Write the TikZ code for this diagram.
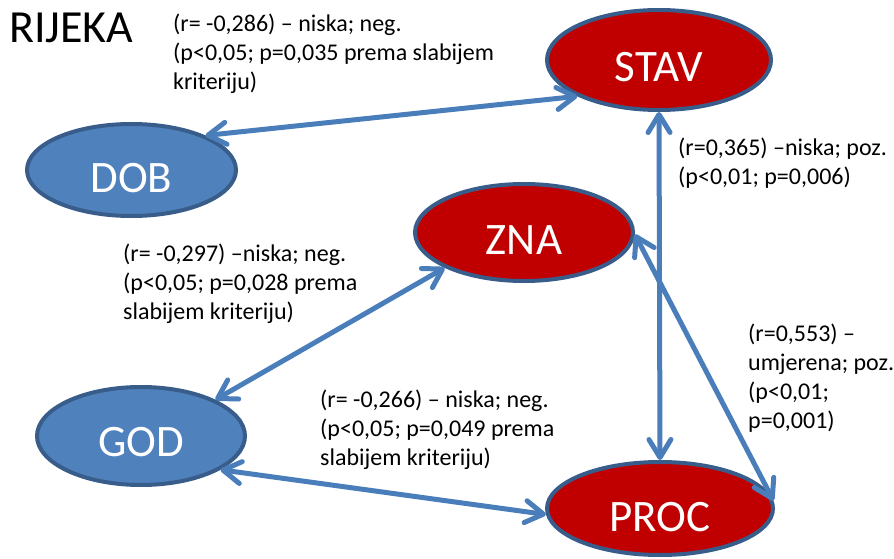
\documentclass[tikz,border=0pt]{standalone}
\usepackage{fontspec}
\setmainfont{Carlito}
\usetikzlibrary{arrows.meta,shapes.geometric}

\definecolor{linkblue}{RGB}{74,126,187}
\definecolor{rimblue}{RGB}{56,93,138}
\definecolor{fillblue}{RGB}{79,129,189}
\definecolor{fillred}{RGB}{192,0,0}

\begin{document}
\begin{tikzpicture}[x=1pt,y=-1pt,
  oval/.style={ellipse, draw=rimblue, line width=4pt, inner sep=0pt},
  blueoval/.style={oval, fill=fillblue},
  redoval/.style={oval, fill=fillred},
  ovaltext/.style={anchor=base, inner sep=0pt, text=white,
    font=\fontsize{45}{54}\selectfont},
  stat/.style={anchor=north west, inner sep=0pt, align=left,
    font=\fontsize{24}{29}\selectfont},
  link/.style={draw=linkblue, line width=5pt,
    {Straight Barb[round,length=18pt,width=22pt]}-{Straight Barb[round,length=18pt,width=22pt]}}
]
\useasboundingbox (0,0) rectangle (894,559);

% variables
\node[blueoval, minimum width=209pt, minimum height=92pt]  (dob)  at (131.5,170) {};
\node[redoval,  minimum width=224pt, minimum height=100pt] (stav) at (659,60) {};
\node[redoval,  minimum width=218pt, minimum height=97pt]  (zna)  at (524,232.5) {};
\node[blueoval, minimum width=208pt, minimum height=98pt]  (god)  at (141,436) {};
\node[redoval,  minimum width=226pt, minimum height=93pt]  (proc) at (660,508.5) {};

\node[ovaltext] (dobt)  at ([yshift=-22pt]dob.center)  {DOB};
\node[ovaltext] (stavt) at ([yshift=-22pt]stav.center) {STAV};
\node[ovaltext] (znat)  at ([yshift=-22pt]zna.center)  {ZNA};
\node[ovaltext] (godt)  at ([yshift=-20pt]god.center)  {GOD};
\node[ovaltext] (proct) at ([yshift=-23pt]proc.center) {PROC};

% correlations
\draw[link] (dob.25) -- (stav.204);
\draw[link] (stav.-90) -- (proc.90);
\draw[link] (zna.-1) -- (proc.4);
\draw[link] (zna.204) -- (god.26);
\draw[link] (god.-23) -- (proc.183);

% title and coefficients
\node[anchor=base west, inner sep=0pt, font=\fontsize{46}{55}\selectfont] (title) at (9,43) {RIJEKA};

\node[stat] (r1) at (173,14) {(r= -0,286) – niska; neg.\\(p<0,05; p=0,035 prema slabijem\\kriteriju)};
\node[stat] (r2) at (678,138) {(r=0,365) –niska; poz.\\(p<0,01; p=0,006)};
\node[stat] (r3) at (123,244) {(r= -0,297) –niska; neg.\\(p<0,05; p=0,028 prema\\slabijem kriteriju)};
\node[stat] (r4) at (748,324) {(r=0,553) –\\umjerena; poz.\\(p<0,01;\\p=0,001)};
\node[stat] (r5) at (320,390) {(r= -0,266) – niska; neg.\\(p<0,05; p=0,049 prema\\slabijem kriteriju)};
\end{tikzpicture}
\end{document}
